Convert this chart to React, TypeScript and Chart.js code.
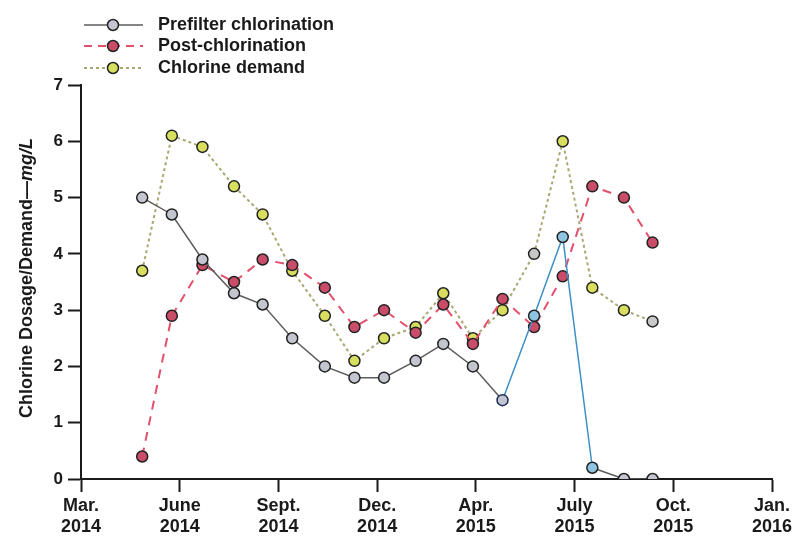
import React, { useEffect, useRef } from "react";
import { Chart, registerables } from "chart.js";

Chart.register(...registerables);

const FONT = '"Liberation Sans", Arial, Helvetica, sans-serif';

// x axis tick labels (evenly spaced ticks 0..7)
const xTickMonths = ["Mar.", "June", "Sept.", "Dec.", "Apr.", "July", "Oct.", "Jan."];
const xTickYears = ["2014", "2014", "2014", "2014", "2015", "2015", "2015", "2016"];
const yTickValues = [0, 1, 2, 3, 4, 5, 6, 7];

// sample positions expressed in tick units (0 = Mar. 2014, 1 = June 2014, ...)
const samplePos = [0.62, 0.92, 1.23, 1.55, 1.84, 2.14, 2.47, 2.77, 3.07, 3.39, 3.67, 3.97, 4.27, 4.59, 4.88, 5.18, 5.5, 5.79];

const prefilter = [5.0, 4.7, 3.9, 3.3, 3.1, 2.5, 2.0, 1.8, 1.8, 2.1, 2.4, 2.0, 1.4, 2.9, 4.3, 0.2, 0, 0];
const postChlorination = [0.4, 2.9, 3.8, 3.5, 3.9, 3.8, 3.4, 2.7, 3.0, 2.6, 3.1, 2.4, 3.2, 2.7, 3.6, 5.2, 5.0, 4.2];
const chlorineDemand = [3.7, 6.1, 5.9, 5.2, 4.7, 3.7, 2.9, 2.1, 2.5, 2.7, 3.3, 2.5, 3.0, 4.0, 6.0, 3.4, 3.0, 2.8];

const seriesNames = ["Prefilter chlorination", "Post-chlorination", "Chlorine demand"];

// highlighted (blue) stretch of the prefilter series
const blueSegmentStart = [12, 13, 14];
const bluePoints = [13, 14, 15];
const grayDemandPoints = [13, 17];

const GRAY_LINE = "#5c5c5c";
const GRAY_FILL = "#c3c5cf";
const BLUE_LINE = "#3d8fc6";
const BLUE_FILL = "#8ec5e2";
const RED_LINE = "#e2506c";
const RED_FILL = "#c94d68";
const YEL_LINE = "#a9a772";
const YEL_FILL = "#d8df5e";

const toPoints = (vals: number[]) => vals.map((v, i) => ({ x: samplePos[i], y: v }));

export default function App() {
  const ref = useRef<HTMLCanvasElement | null>(null);

  useEffect(() => {
    if (!ref.current) return;

    const legendPlugin = {
      id: "customLegend",
      afterDraw(chart: any) {
        const c = chart.ctx as CanvasRenderingContext2D;
        const rows = [
          { y: 25, line: GRAY_LINE, dash: [] as number[], fill: GRAY_FILL, w: 1.5 },
          { y: 46, line: RED_LINE, dash: [8, 6], fill: RED_FILL, w: 2 },
          { y: 68, line: YEL_LINE, dash: [3, 3], fill: YEL_FILL, w: 2 },
        ];
        rows.forEach((r, i) => {
          c.save();
          c.strokeStyle = r.line;
          c.lineWidth = r.w;
          c.setLineDash(r.dash);
          c.beginPath();
          c.moveTo(84, r.y);
          c.lineTo(143, r.y);
          c.stroke();
          c.setLineDash([]);
          c.beginPath();
          c.arc(113, r.y, 5.5, 0, Math.PI * 2);
          c.fillStyle = r.fill;
          c.fill();
          c.lineWidth = 1.5;
          c.strokeStyle = "#222";
          c.stroke();
          c.fillStyle = "#1a1a1a";
          c.font = `bold 18px ${FONT}`;
          c.textAlign = "left";
          c.textBaseline = "middle";
          c.fillText(seriesNames[i], 158, r.y);
          c.restore();
        });
      },
    };

    const yTitlePlugin = {
      id: "yTitle",
      afterDraw(chart: any) {
        const c = chart.ctx as CanvasRenderingContext2D;
        const part1 = "Chlorine Dosage/Demand\u2014";
        const part2 = "mg/L";
        c.save();
        c.translate(27, 278);
        c.rotate(-Math.PI / 2);
        c.textBaseline = "middle";
        c.textAlign = "left";
        c.fillStyle = "#1a1a1a";
        c.font = `bold 18px ${FONT}`;
        const w1 = c.measureText(part1).width;
        c.font = `italic bold 18px ${FONT}`;
        const w2 = c.measureText(part2).width;
        const start = -(w1 + w2) / 2;
        c.font = `bold 18px ${FONT}`;
        c.fillText(part1, start, 0);
        c.font = `italic bold 18px ${FONT}`;
        c.fillText(part2, start + w1, 0);
        c.restore();
      },
    };

    const chart = new Chart(ref.current, {
      type: "line",
      data: {
        datasets: [
          {
            label: seriesNames[0],
            data: toPoints(prefilter),
            borderColor: GRAY_LINE,
            borderWidth: 1.5,
            segment: {
              borderColor: (ctx: any) => (blueSegmentStart.includes(ctx.p0DataIndex) ? BLUE_LINE : GRAY_LINE),
            },
            pointRadius: 5.5,
            pointBorderWidth: 1.5,
            pointBorderColor: (ctx: any) => (ctx.dataIndex === 12 ? "#1f2c5c" : "#222"),
            pointBackgroundColor: (ctx: any) => (bluePoints.includes(ctx.dataIndex) ? BLUE_FILL : GRAY_FILL),
            tension: 0,
          },
          {
            label: seriesNames[1],
            data: toPoints(postChlorination),
            borderColor: RED_LINE,
            borderWidth: 2,
            borderDash: [9, 7],
            pointRadius: 5.5,
            pointBorderWidth: 1.5,
            pointBorderColor: "#222",
            pointBackgroundColor: RED_FILL,
            tension: 0,
          },
          {
            label: seriesNames[2],
            data: toPoints(chlorineDemand),
            borderColor: YEL_LINE,
            borderWidth: 2,
            borderDash: [3, 3],
            pointRadius: 5.5,
            pointBorderWidth: 1.5,
            pointBorderColor: "#222",
            pointBackgroundColor: (ctx: any) => (grayDemandPoints.includes(ctx.dataIndex) ? "#c8c8c8" : YEL_FILL),
            tension: 0,
          },
        ],
      },
      options: {
        animation: false,
        responsive: false,
        maintainAspectRatio: false,
        layout: { padding: { top: 85, right: 29, left: 0, bottom: 0 } },
        plugins: {
          legend: { display: false },
          tooltip: { enabled: false },
        },
        scales: {
          x: {
            type: "linear",
            min: 0,
            max: 7,
            afterBuildTicks: (scale: any) => {
              scale.ticks = xTickMonths.map((_, i) => ({ value: i }));
            },
            afterFit: (scale: any) => {
              scale.height = 58;
            },
            ticks: {
              autoSkip: false,
              maxRotation: 0,
              padding: 4,
              color: "#1a1a1a",
              font: { family: FONT, size: 18, weight: "bold", lineHeight: 1.15 },
              callback: (v: any) => {
                const i = Math.round(Number(v));
                return [xTickMonths[i], xTickYears[i]];
              },
            },
            grid: {
              drawOnChartArea: false,
              drawTicks: true,
              tickLength: 13,
              tickColor: "#1a1a1a",
              tickWidth: 2,
            },
            border: { display: true, color: "#1a1a1a", width: 2 },
          },
          y: {
            min: 0,
            max: 7,
            afterBuildTicks: (scale: any) => {
              scale.ticks = yTickValues.map((v) => ({ value: v }));
            },
            afterFit: (scale: any) => {
              scale.width = 81;
            },
            ticks: {
              padding: 5,
              color: "#1a1a1a",
              font: { family: FONT, size: 17, weight: "bold" },
            },
            grid: {
              drawOnChartArea: false,
              drawTicks: true,
              tickLength: 13,
              tickColor: "#1a1a1a",
              tickWidth: 2,
            },
            border: { display: true, color: "#1a1a1a", width: 2 },
          },
        },
      } as any,
      plugins: [legendPlugin, yTitlePlugin],
    });

    return () => chart.destroy();
  }, []);

  return (
    <div style={{ position: "absolute", left: 0, top: 0, width: 801, height: 537, background: "#fff" }}>
      <canvas ref={ref} width={801} height={537} style={{ display: "block" }} />
    </div>
  );
}
